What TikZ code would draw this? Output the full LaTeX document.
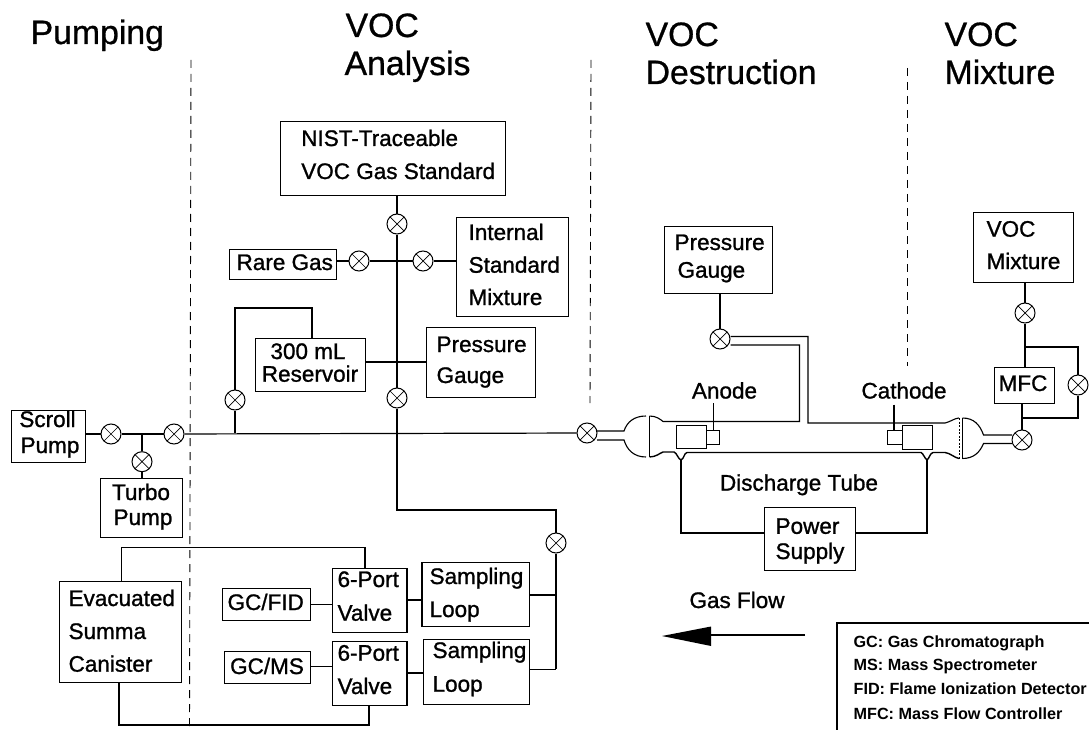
\documentclass[tikz,border=0pt]{standalone}
\usepackage{fontspec}
\setmainfont{Liberation Sans}
\newfontfamily\heavy[RawFeature={embolden=1.1}]{Liberation Sans}
\newfontfamily\heavyt[RawFeature={embolden=0.8}]{Liberation Sans}
\begin{document}
\begin{tikzpicture}[x=1pt,y=-1pt,
  every path/.style={line width=1.2pt,line join=miter},
  txt/.style={inner sep=0pt,anchor=base,font=\heavy\fontsize{22.5}{22.5}\selectfont},
  ttl/.style={inner sep=0pt,anchor=base west,font=\heavyt\fontsize{33.8}{34}\selectfont},
  lgd/.style={inner sep=0pt,anchor=base west,font=\fontsize{16.2}{16}\bfseries\selectfont},
  lbl/.style={txt,anchor=base west},
  boxn/.style={draw,inner sep=0pt,anchor=north west,line width=1.3pt},
  vlv/.style={draw,circle,minimum size=20pt,inner sep=0pt,line width=1pt,path picture={
    \draw[line width=.7pt] (path picture bounding box.north west)--(path picture bounding box.south east)
    (path picture bounding box.north east)--(path picture bounding box.south west);}},
  dsh/.style={line width=.9pt,dash pattern=on 8pt off 6pt},
  glass/.style={line width=1.1pt}]
\useasboundingbox (0,0) rectangle (1089,730);
\def\bx#1#2#3#4#5{\node[boxn,minimum width=#4pt-#2pt,minimum height=#5pt-#3pt] (#1) at (#2,#3) {};}

% titles
\node[ttl] (t1) at (30,44) {Pumping};
\node[ttl] (t2a) at (345,37) {VOC};
\node[ttl] (t2b) at (344,75) {Analysis};
\node[ttl] (t3a) at (645,46) {VOC};
\node[ttl] (t3b) at (645,84) {Destruction};
\node[ttl] (t4a) at (944,46) {VOC};
\node[ttl] (t4b) at (944,84) {Mixture};

% section dividers
\coordinate (d1a) at (191,60); \coordinate (d1b) at (189.5,730);
\coordinate (d2a) at (591,60); \coordinate (d2b) at (590,403);
\coordinate (d3a) at (907.5,68); \coordinate (d3b) at (907.5,366);
\draw[dsh] (d1a)--(d1b); \draw[dsh] (d2a)--(d2b); \draw[dsh] (d3a)--(d3b);

% boxes
\bx{nist}{280}{121}{505}{195}
\bx{internal}{455.7}{217}{568}{316}
\bx{rare}{229}{249}{336}{279}
\bx{res}{255}{338}{365}{391}
\bx{pg}{426}{327}{535}{397}
\bx{scroll}{11}{410}{85}{462}
\bx{turbo}{100}{477.7}{182}{537}
\bx{pgd}{664}{225.7}{771.7}{293}
\bx{mix}{973}{211.7}{1073}{282}
\bx{mfc}{994}{367}{1054}{403}
\bx{power}{763.5}{506.5}{854.5}{570}
\bx{can}{58.5}{580.7}{181}{682}
\bx{pa}{332}{567.7}{406.4}{632}
\bx{pb}{332}{641}{406.4}{705}
\bx{la}{421.4}{562}{528.6}{625.7}
\bx{lb}{423}{638.7}{529}{704}
\bx{fid}{222}{588}{309.6}{620}
\bx{ms}{223.6}{651}{309.6}{682.7}

% box text
\node[lbl] at (300.7,146) {NIST-Traceable};
\node[lbl] at (300.7,179) {VOC Gas Standard};
\node[lbl] at (468,240) {Internal};
\node[lbl] at (468,272.7) {Standard};
\node[lbl] at (468,305) {Mixture};
\node[lbl] at (236,270) {Rare Gas};
\node[txt] at (308,359) {300 mL};
\node[txt] at (310,381.7) {Reservoir};
\node[lbl] at (436,352) {Pressure};
\node[lbl] at (436,383) {Gauge};
\node[txt] at (47.5,427) {Scroll};
\node[txt] at (50,453) {Pump};
\node[txt] at (141,500) {Turbo};
\node[txt] at (143,525) {Pump};
\node[lbl] at (674,250) {Pressure};
\node[lbl] at (677,277.7) {Gauge};
\node[lbl] at (986,236.7) {VOC};
\node[lbl] at (986,269) {Mixture};
\node[txt] at (1023,391) {MFC};
\node[lbl] at (775,533.8) {Power};
\node[lbl] at (775,559) {Supply};
\node[lbl] at (68,606) {Evacuated};
\node[lbl] at (68,639) {Summa};
\node[lbl] at (68,671.7) {Canister};
\node[lbl] at (337,587) {6-Port};
\node[lbl] at (337,620.7) {Valve};
\node[lbl] at (337,660.7) {6-Port};
\node[lbl] at (337,694) {Valve};
\node[lbl] at (429,584) {Sampling};
\node[lbl] at (429,617) {Loop};
\node[lbl] at (432,658) {Sampling};
\node[lbl] at (432,691.7) {Loop};
\node[txt] at (265.7,610) {GC/FID};
\node[txt] at (267,674) {GC/MS};
\node[txt] (anode) at (724.5,398.5) {Anode};
\node[txt] (cathode) at (904,398.5) {Cathode};
\node[txt] at (799,490.6) {Discharge Tube};
\node[txt] (gf) at (737,608) {Gas Flow};

% valves
\foreach \n/\x/\y in {vs/111/434,vt/174/434,vtb/142/461.7,vr/235/400,vn/397/224,vrg/359/261,vi/423/261,vm/397/398,vd/587/433,vpg/720/339,vloop/556/543,vmix/1025/313,vby/1078/385,vin/1022/440}
  \node[vlv] (\n) at (\x,\y) {};

% pumping and main line
\coordinate (j1) at (142,434);
\draw (scroll.east|-vs) -- (vs) -- (vt);
\draw (j1) -- (vtb);
\draw (vtb) -- (vtb|-turbo.north);
\coordinate (j2) at (235,433);
\coordinate (j3) at (397,433);
\draw (vt) -- (vd);
\draw (j2) -- (vr);
\coordinate (c1) at (235,308); \coordinate (c2) at (312,308);
\draw (vr) -- (c1) -- (c2) -- (c2|-res.north);

% analysis manifold
\draw (vn|-nist.south) -- (vn) -- (vm);
\draw (rare.east|-vrg) -- (vrg) -- (vi) -- (internal.west|-vi);
\draw (res.east|-0,362) -- (pg.west|-0,362);
\coordinate (c3) at (397,510); \coordinate (c4) at (556,510);
\draw (vm) -- (c3) -- (c4) -- (vloop);
\coordinate (c5) at (556,595); \coordinate (c6) at (556,669.3);
\draw (vloop) -- (c6);
\draw (c5) -- (c5-|la.east);
\draw (c6) -- (c6-|lb.east);
\draw (fid.east|-0,604.3) -- (pa.west|-0,604.3);
\draw (ms.east|-0,666.7) -- (pb.west|-0,666.7);
\draw (pa.east|-0,600) -- (la.west|-0,600);
\draw (pb.east|-0,673) -- (lb.west|-0,673);
\coordinate (c7) at (121.4,547.7); \coordinate (c8) at (365,547.7);
\draw (c7|-can.north) -- (c7) -- (c8) -- (c8|-pa.north);
\coordinate (c9) at (119,725); \coordinate (c10) at (369,725);
\draw (c9|-can.south) -- (c9) -- (c10) -- (c10|-pb.south);

% discharge tube: left bulb
\coordinate (sl1) at (597,431); \coordinate (sl2) at (597,440);
\draw[glass] (sl1) -- (624,431) .. controls (627,422) and (634,416) .. (646,416);
\draw[glass] (sl2) -- (624,440) .. controls (627,450) and (634,457) .. (646,457);
% tube wall from left flange
\draw[glass] (649.5,416) -- (649.5,457);
\draw[glass] (649.5,416) .. controls (656,416) and (660,419) .. (663,421.5) -- (799.5,421.5) -- (799.5,345) -- (vpg.east|-0,345);
\draw[line width=1.4pt] (649.5,457) .. controls (656,457) and (660,453) .. (663,452) -- (674,452) .. controls (677,453) and (678,459) .. (681,460) .. controls (684,459) and (684,453) .. (687,452.5) -- (921,452.5) .. controls (923,453) and (925,459) .. (927,460) .. controls (929,459) and (930,453) .. (933,452.5) -- (945,452.5) .. controls (950,453) and (955,458) .. (959,458.5);
\draw[glass] (vpg.east|-0,336.5) -- (808,336.5) -- (808,423) -- (945,423) .. controls (950,422) and (955,418) .. (959,418);
% right flange and bulb
\draw[line width=1pt,dash pattern=on 2pt off 1.5pt] (959,418) -- (959,458.5);
\draw[glass] (962.5,418) -- (962.5,458.5);
\draw[glass] (962.5,418) .. controls (974,418) and (980,425) .. (983.5,435) -- (1012,435);
\draw[glass] (962.5,458.5) .. controls (974,458.5) and (980,452) .. (983.5,443.5) -- (1012,443.5);
% electrodes
\node[boxn,line width=1pt,minimum width=30pt,minimum height=23pt] (ea) at (675.7,425) {};
\node[boxn,line width=1pt,minimum width=13pt,minimum height=13.5pt] (eas) at (706,430) {};
\node[boxn,line width=1pt,minimum width=30pt,minimum height=23.5pt] (ec) at (902,425) {};
\node[boxn,line width=1pt,minimum width=15pt,minimum height=14pt] (ecs) at (887,430) {};
\draw[line width=.7pt] (713.5,403) -- (713.5,430);
\draw (894,404.6) -- (894,430);
% power leads
\coordinate (p1) at (681,460); \coordinate (p2) at (927,460);
\draw[line width=1.4pt] (p1) -- (p1|-0,533) -- (power.west|-0,533);
\draw[line width=1.4pt] (p2) -- (p2|-0,533) -- (power.east|-0,533);
% destruction gauge
\draw (vpg|-pgd.south) -- (vpg);
% mixture
\draw (mix.south-|vmix) -- (vmix) -- (vmix|-mfc.north);
\coordinate (b1) at (1025,347); \coordinate (b2) at (1078,347);
\coordinate (b3) at (1078,418); \coordinate (b4) at (1022,418);
\draw (b1) -- (b2) -- (vby) -- (b3) -- (b4);
\draw (vin|-mfc.south) -- (vin);

% gas flow arrow
\coordinate (f1) at (805,635); \coordinate (f2) at (711,635);
\draw (f1) -- (f2);
\fill (662,636) -- (711,626.5) -- (711,646) -- cycle;

% legend
\coordinate (l1) at (837,730); \coordinate (l2) at (837,623); \coordinate (l3) at (1089,623);
\draw (l1) -- (l2) -- (l3);
\node[lgd] at (853,647) {GC: Gas Chromatograph};
\node[lgd] at (853,670) {MS: Mass Spectrometer};
\node[lgd] at (853,694) {FID: Flame Ionization Detector};
\node[lgd] at (853,719) {MFC: Mass Flow Controller};
\end{tikzpicture}
\end{document}
